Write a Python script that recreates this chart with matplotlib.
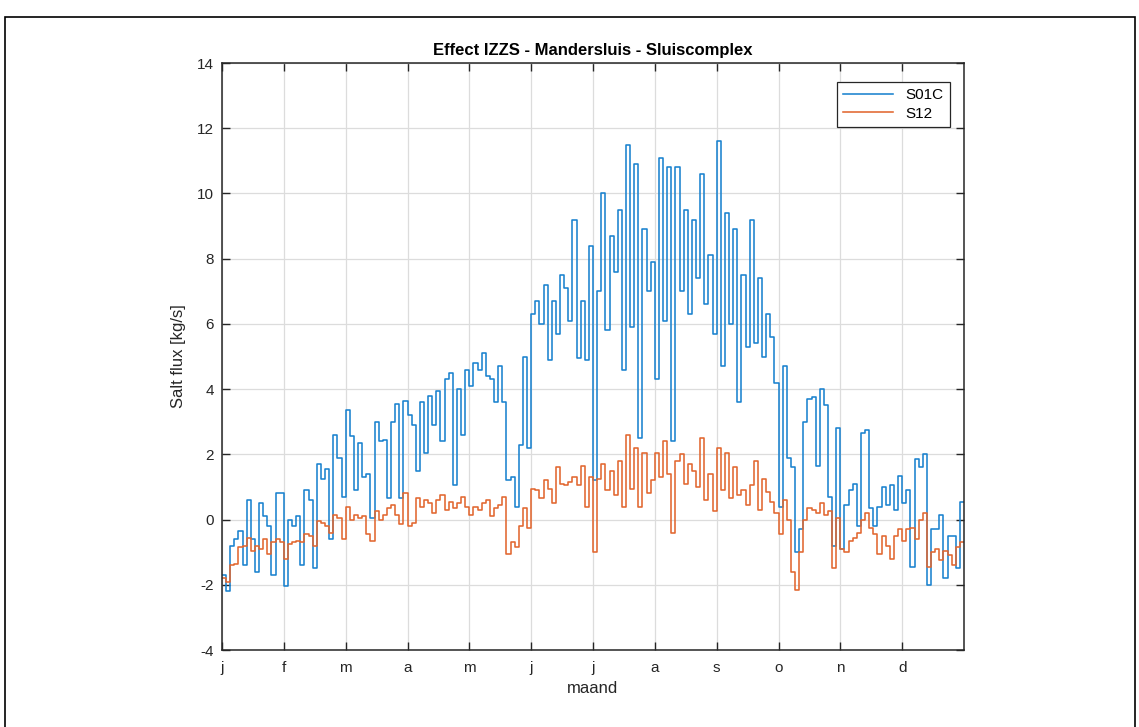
import numpy as np
import matplotlib.pyplot as plt
from matplotlib.patches import Rectangle

plt.rcParams['font.family'] = ['Liberation Sans', 'DejaVu Sans']
plt.rcParams['axes.unicode_minus'] = False

months = ['j', 'f', 'm', 'a', 'm', 'j', 'j', 'a', 's', 'o', 'n', 'd']
per_month = 15  # samples per month (two-day steps)

# S01C salt flux [kg/s], one row per month
s01c = [
    -1.7, -2.2, -0.8, -0.6, -0.35, -1.4, 0.6, -0.6, -1.6, 0.5, 0.1, -0.2, -1.7, 0.8, 0.8,
    -2.05, 0.0, -0.2, 0.1, -1.4, 0.9, 0.6, -1.5, 1.7, 1.25, 1.55, -0.6, 2.6, 1.9, 0.7,
    3.35, 2.55, 0.9, 2.35, 1.3, 1.4, 0.05, 3.0, 2.4, 2.45, 0.65, 3.0, 3.55, 0.65, 3.65,
    3.2, 2.9, 1.5, 3.6, 2.05, 3.8, 2.9, 3.95, 2.4, 4.3, 4.5, 1.05, 4.0, 2.6, 4.6,
    4.1, 4.8, 4.6, 5.1, 4.4, 4.3, 3.6, 4.7, 3.6, 1.2, 1.3, 0.4, 2.3, 5.0, 2.2,
    6.3, 6.7, 6.0, 7.2, 4.9, 6.7, 5.7, 7.5, 7.1, 6.1, 9.2, 4.95, 6.7, 4.9, 8.4,
    1.2, 7.0, 10.0, 5.8, 8.7, 7.6, 9.5, 4.6, 11.5, 5.9, 10.9, 2.5, 8.9, 7.0, 7.9,
    4.3, 11.1, 6.1, 10.8, 2.4, 10.8, 7.0, 9.5, 6.3, 9.2, 7.4, 10.6, 6.6, 8.1, 5.7,
    11.6, 4.7, 9.4, 6.0, 8.9, 3.6, 7.5, 5.3, 9.2, 5.4, 7.4, 5.0, 6.3, 5.6, 4.2,
    0.4, 4.7, 1.9, 1.6, -1.0, -0.3, 3.0, 3.7, 3.75, 1.65, 4.0, 3.5, 0.7, -0.8, 2.8,
    -0.9, 0.45, 0.9, 1.1, -0.2, 2.65, 2.75, 0.35, -0.2, 0.4, 1.0, 0.45, 1.05, 0.3, 1.35,
    0.5, 0.9, -1.45, 1.85, 1.6, 2.0, -2.0, -0.3, -0.3, 0.15, -1.8, -0.5, -0.5, -1.5, 0.55,
]

# S12 salt flux [kg/s]
s12 = [
    -1.8, -1.9, -1.4, -1.35, -0.85, -0.8, -0.55, -0.95, -0.8, -0.9, -0.6, -1.05, -0.7, -0.6, -0.7,
    -1.2, -0.75, -0.7, -0.65, -0.7, -0.45, -0.5, -0.8, -0.05, -0.1, -0.2, -0.4, 0.15, 0.05, -0.6,
    0.4, 0.0, 0.15, 0.05, 0.1, -0.45, -0.65, 0.25, 0.0, 0.15, 0.35, 0.45, 0.15, -0.15, 0.8,
    -0.2, -0.1, 0.65, 0.4, 0.6, 0.5, 0.2, 0.6, 0.75, 0.3, 0.55, 0.35, 0.5, 0.7, 0.4,
    0.15, 0.4, 0.3, 0.5, 0.6, 0.1, 0.35, 0.45, 0.7, -1.05, -0.7, -0.85, -0.2, 0.35, -0.25,
    0.95, 0.9, 0.65, 1.2, 0.95, 0.5, 1.6, 1.1, 1.05, 1.15, 1.3, 1.05, 1.65, 0.4, 1.3,
    -1.0, 1.25, 1.7, 0.9, 1.5, 0.75, 1.8, 0.4, 2.6, 0.95, 2.2, 0.4, 2.05, 0.8, 1.2,
    2.05, 1.3, 2.4, 1.4, -0.4, 1.8, 2.0, 1.1, 1.7, 1.5, 1.0, 2.5, 0.6, 1.4, 0.25,
    2.2, 0.9, 2.05, 0.65, 1.6, 0.75, 0.9, 0.45, 1.05, 1.8, 0.3, 1.25, 0.85, 0.55, 0.2,
    -0.45, 0.6, 0.0, -1.6, -2.15, -1.0, 0.0, 0.35, 0.3, 0.2, 0.5, 0.15, 0.25, -1.5, 0.05,
    -0.9, -1.0, -0.65, -0.55, -0.4, 0.0, 0.2, -0.25, -0.45, -1.05, -0.5, -0.8, -1.2, -0.5, -0.3,
    -0.65, -0.3, -0.25, -0.6, 0.0, 0.2, -1.45, -1.0, -0.9, -1.25, -0.95, -1.1, -1.4, -0.85, -0.7,
]

series = {'S01C': (s01c, '#1a82cf'), 'S12': (s12, '#e2672f')}

fig = plt.figure(figsize=(11.39, 7.27), dpi=100)
ax = fig.add_axes([0.1949, 0.1059, 0.6515, 0.8074])

for name, (vals, col) in series.items():
    y = np.asarray(vals, dtype=float)
    x = np.arange(len(y)) / per_month
    ax.step(np.append(x, 12), np.append(y, y[-1]), where='post',
            color=col, lw=1.15, label=name)

ax.set_xlim(0, 12)
ax.set_ylim(-4, 14)
ax.set_xticks(range(12))
ax.set_xticklabels(months)
ax.set_yticks(range(-4, 15, 2))
ax.grid(True, color='#dcdcdc', lw=0.9)
ax.set_axisbelow(True)

dark = '#262626'
for sp in ax.spines.values():
    sp.set_color(dark)
    sp.set_linewidth(1.1)
ax.tick_params(direction='in', length=6, width=1.0, colors=dark, labelsize=11,
               top=True, right=True, pad=6)
ax.tick_params(axis='x', pad=8)

ax.set_title('Effect IZZS - Mandersluis - Sluiscomplex', fontsize=12,
             fontweight='bold', pad=6)
ax.set_ylabel('Salt flux [kg/s]', fontsize=12, color=dark, labelpad=8)
ax.set_xlabel('maand', fontsize=12, color=dark, labelpad=4)

leg = ax.legend(loc='upper right', bbox_to_anchor=(0.981, 0.968), borderaxespad=0,
                fontsize=11, handlelength=3.3, fancybox=False, framealpha=1,
                edgecolor=dark, borderpad=0.4, labelspacing=0.3)
leg.get_frame().set_linewidth(0.9)

# page frame around the figure
fig.add_artist(Rectangle((5 / 1139, -0.02), 1130 / 1139, (727 - 17) / 727 + 0.02,
                         transform=fig.transFigure, fill=False, ec='black', lw=1.2))

fig.savefig('out.png', dpi=100)
